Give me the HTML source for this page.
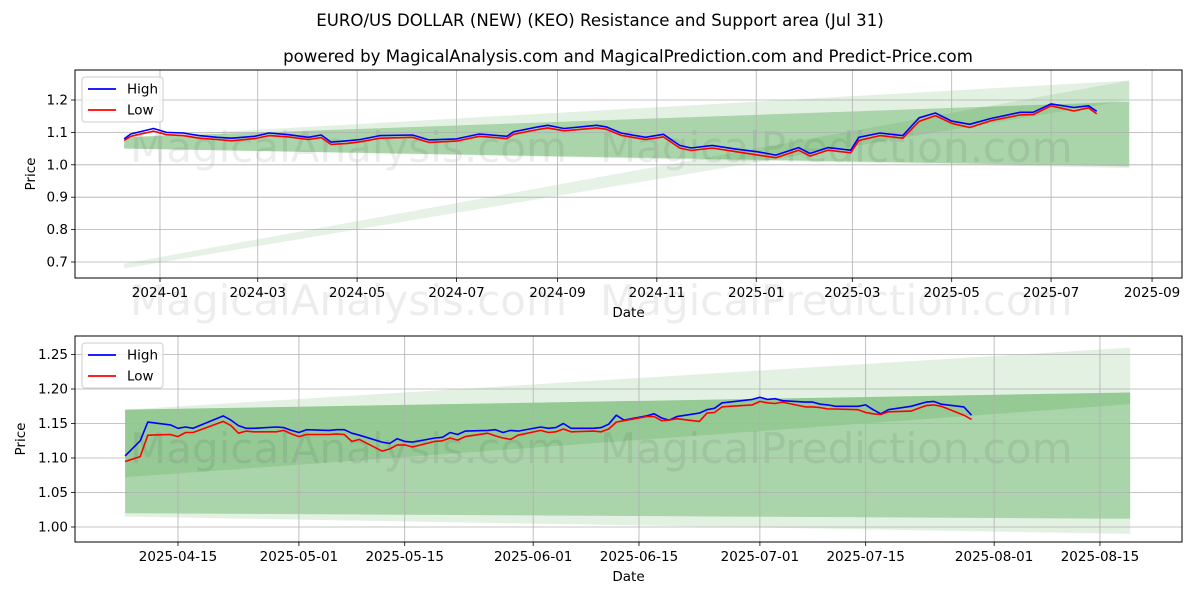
<!DOCTYPE html>
<html><head><meta charset="utf-8"><style>
body{margin:0;background:#fff;}
svg text{font-family:"DejaVu Sans","Liberation Sans",sans-serif;fill:#000;}
</style></head><body>
<svg id="c" width="1200" height="600" xmlns="http://www.w3.org/2000/svg">
<rect width="1200" height="600" fill="#fff"/>
<text x="600" y="26" font-size="16.6" text-anchor="middle">EURO/US DOLLAR (NEW) (KEO) Resistance and Support area (Jul 31)</text>
<text x="628" y="62" font-size="16.6" text-anchor="middle">powered by MagicalAnalysis.com and MagicalPrediction.com and Predict-Price.com</text>
<g id="top"></g>
<g id="bot"></g>
</svg>
<script>
// ---- top chart data ----
const topDates=["2023-12-10","2023-12-14","2023-12-28","2024-01-05","2024-01-15","2024-01-25","2024-02-05","2024-02-14","2024-02-28","2024-03-08","2024-03-20","2024-04-01","2024-04-09","2024-04-15","2024-04-25","2024-05-03","2024-05-15","2024-06-04","2024-06-14","2024-07-01","2024-07-15","2024-08-01","2024-08-05","2024-08-20","2024-08-26","2024-09-05","2024-09-25","2024-10-01","2024-10-10","2024-10-25","2024-11-05","2024-11-15","2024-11-22","2024-12-05","2024-12-20","2025-01-02","2025-01-13","2025-01-27","2025-02-03","2025-02-14","2025-02-28","2025-03-05","2025-03-18","2025-04-01","2025-04-11","2025-04-21","2025-05-01","2025-05-12","2025-05-25","2025-06-12","2025-06-20","2025-07-01","2025-07-15","2025-07-24","2025-07-29"];
const topHigh=[1.080,1.095,1.112,1.100,1.098,1.090,1.085,1.082,1.088,1.098,1.093,1.085,1.092,1.070,1.074,1.078,1.090,1.092,1.077,1.080,1.095,1.088,1.102,1.117,1.122,1.112,1.122,1.117,1.098,1.085,1.094,1.060,1.052,1.060,1.048,1.040,1.030,1.053,1.035,1.053,1.045,1.085,1.098,1.090,1.145,1.160,1.135,1.125,1.143,1.162,1.162,1.188,1.177,1.182,1.165];
const topLow=[1.075,1.088,1.104,1.093,1.090,1.082,1.078,1.074,1.081,1.090,1.086,1.078,1.084,1.063,1.066,1.071,1.082,1.085,1.069,1.073,1.088,1.081,1.094,1.109,1.114,1.105,1.114,1.110,1.091,1.078,1.086,1.052,1.044,1.052,1.040,1.030,1.022,1.045,1.027,1.045,1.037,1.075,1.090,1.082,1.134,1.152,1.128,1.115,1.136,1.154,1.155,1.182,1.166,1.176,1.157];
const topYTicks=[0.7,0.8,0.9,1.0,1.1,1.2];
const topXTicks=["2024-01","2024-03","2024-05","2024-07","2024-09","2024-11","2025-01","2025-03","2025-05","2025-07","2025-09"];
const topBandDates=["2023-12-10","2025-08-18"];
const topOuterTop=[1.085,1.26], topOuterBot=[1.05,0.99];
const topMainTop=[1.085,1.195], topMainBot=[1.05,0.995];
const topLineTop=[0.695,1.26], topLineBot=[0.68,1.20];
// ---- bottom chart data ----
const botDates=["2025-04-08","2025-04-10","2025-04-11","2025-04-14","2025-04-15","2025-04-16","2025-04-17","2025-04-21","2025-04-22","2025-04-23","2025-04-24","2025-04-25","2025-04-28","2025-04-29","2025-04-30","2025-05-01","2025-05-02","2025-05-05","2025-05-06","2025-05-07","2025-05-08","2025-05-09","2025-05-12","2025-05-13","2025-05-14","2025-05-15","2025-05-16","2025-05-19","2025-05-20","2025-05-21","2025-05-22","2025-05-23","2025-05-26","2025-05-27","2025-05-28","2025-05-29","2025-05-30","2025-06-02","2025-06-03","2025-06-04","2025-06-05","2025-06-06","2025-06-09","2025-06-10","2025-06-11","2025-06-12","2025-06-13","2025-06-16","2025-06-17","2025-06-18","2025-06-19","2025-06-20","2025-06-23","2025-06-24","2025-06-25","2025-06-26","2025-06-27","2025-06-30","2025-07-01","2025-07-02","2025-07-03","2025-07-04","2025-07-07","2025-07-08","2025-07-09","2025-07-10","2025-07-11","2025-07-14","2025-07-15","2025-07-16","2025-07-17","2025-07-18","2025-07-21","2025-07-22","2025-07-23","2025-07-24","2025-07-25","2025-07-28","2025-07-29"];
const botHigh=[1.103,1.125,1.152,1.148,1.143,1.145,1.143,1.161,1.155,1.147,1.143,1.143,1.145,1.144,1.140,1.137,1.141,1.140,1.141,1.141,1.136,1.133,1.123,1.121,1.128,1.124,1.123,1.129,1.130,1.137,1.134,1.139,1.140,1.141,1.137,1.140,1.139,1.145,1.143,1.144,1.150,1.143,1.143,1.144,1.149,1.162,1.155,1.161,1.164,1.158,1.155,1.160,1.165,1.170,1.172,1.180,1.181,1.185,1.188,1.185,1.186,1.183,1.181,1.181,1.178,1.177,1.175,1.175,1.177,1.170,1.164,1.170,1.175,1.178,1.181,1.182,1.178,1.174,1.162];
const botLow=[1.095,1.102,1.133,1.134,1.131,1.137,1.137,1.153,1.147,1.136,1.139,1.138,1.138,1.140,1.135,1.131,1.134,1.134,1.135,1.134,1.124,1.127,1.110,1.113,1.119,1.119,1.116,1.124,1.125,1.129,1.126,1.131,1.136,1.132,1.129,1.127,1.133,1.140,1.137,1.138,1.142,1.138,1.139,1.138,1.142,1.152,1.154,1.160,1.160,1.154,1.155,1.157,1.153,1.165,1.166,1.174,1.175,1.177,1.182,1.180,1.179,1.181,1.174,1.174,1.173,1.171,1.171,1.170,1.166,1.164,1.163,1.167,1.168,1.172,1.176,1.177,1.175,1.162,1.156];
const botYTicks=[1.00,1.05,1.10,1.15,1.20,1.25];
const botXTicks=["2025-04-15","2025-05-01","2025-05-15","2025-06-01","2025-06-15","2025-07-01","2025-07-15","2025-08-01","2025-08-15"];
const botBandDates=["2025-04-08","2025-08-19"];
const botOuterTop=[1.17,1.26], botOuterBot=[1.015,0.99];
const botMainTop=[1.17,1.195], botMainBot=[1.02,1.012];
const botInnerTop=[1.17,1.195], botInnerBot=[1.072,1.178];

const NS="http://www.w3.org/2000/svg";
function day(s){const p=s.split("-").map(Number);return Date.UTC(p[0],p[1]-1,p[2]||1)/864e5;}
function mk(tag,at,parent){const e=document.createElementNS(NS,tag);for(const k in at)e.setAttribute(k,at[k]);parent.appendChild(e);return e;}

function panel(g,cfg){
  const {L,R,T,B,d0,d1,v0,v1}=cfg;
  const X=d=>L+(day(d)-d0)/(d1-d0)*(R-L);
  const Y=v=>B-(v-v0)/(v1-v0)*(B-T);
  function band(dates,top,bot,alpha,name){
    const pts=[[X(dates[0]),Y(top[0])],[X(dates[1]),Y(top[1])],[X(dates[1]),Y(bot[1])],[X(dates[0]),Y(bot[0])]];
    const p=mk("polygon",{points:pts.map(q=>q.join(",")).join(" "),fill:"rgb(0,128,0)","fill-opacity":alpha},g);
    
    
  }
  cfg.bands.forEach(b=>band(cfg.bandDates,b[0],b[1],b[2],b[3]));
  cfg.marks.forEach(m=>{const t=mk("text",{x:m[0],y:m[1],"font-size":42},g);t.style.fillOpacity="0.07";t.textContent=m[2];
    
    });
  cfg.yTicks.forEach(v=>{const y=Y(v);
    const l=mk("line",{x1:L,x2:R,y1:y,y2:y,stroke:"#b0b0b0","stroke-width":0.8},g);
    
    
    mk("line",{x1:L-4,x2:L,y1:y,y2:y,stroke:"#000","stroke-width":0.8},g);
    const t=mk("text",{x:L-7,y:y+4.5,"font-size":13.5,"text-anchor":"end"},g);t.textContent=v.toFixed(cfg.yDec);
    
    });
  cfg.xTicks.forEach(d=>{const x=X(d);
    const l=mk("line",{x1:x,x2:x,y1:T,y2:B,stroke:"#b0b0b0","stroke-width":0.8},g);
    
    
    mk("line",{x1:x,x2:x,y1:B,y2:B+4,stroke:"#000","stroke-width":0.8},g);
    const t=mk("text",{x:x,y:B+19,"font-size":13.5,"text-anchor":"middle"},g);t.textContent=d;
    
    });
  function line(vals,color,name){
    const p=mk("polyline",{points:cfg.dates.map((d,i)=>X(d).toFixed(1)+","+Y(vals[i]).toFixed(1)).join(" "),fill:"none",stroke:color,"stroke-width":1.6,"stroke-linejoin":"round"},g);
    
    
  }
  line(cfg.high,"#0000ff","high-line");
  line(cfg.low,"#ff0000","low-line");
  const fr=mk("rect",{x:L,y:T,width:R-L,height:B-T,fill:"none",stroke:"#000","stroke-width":1},g);
  
  
  const xl=mk("text",{x:(L+R)/2,y:B+39,"font-size":13.5,"text-anchor":"middle"},g);xl.textContent="Date";
  
  
  const cy=(T+B)/2;
  const yl=mk("text",{x:cfg.yLabX,y:cy,"font-size":13.5,"text-anchor":"middle",transform:`rotate(-90 ${cfg.yLabX} ${cy})`},g);yl.textContent="Price";
  
  
  const lg=mk("g",{},g);
  
  
  mk("rect",{x:L+7,y:T+7,width:81,height:45,rx:3,fill:"#fff","fill-opacity":0.8,stroke:"#ccc"},lg);
  [["High","#0000ff"],["Low","#ff0000"]].forEach((e,i)=>{const y=T+19+i*21;
    const le=mk("g",{},lg);
    
    
    mk("line",{x1:L+13,x2:L+41,y1:y,y2:y,stroke:e[1],"stroke-width":1.8},le);
    const t=mk("text",{x:L+52,y:y+4.5,"font-size":13.5},le);t.textContent=e[0];});
}

panel(document.getElementById("top"),{L:75,R:1182,T:70,B:278,d0:day("2024-01-01")-(160-75)/1.629,d1:day("2024-01-01")+(1182-160)/1.629,
  v0:1.2-(278-100)/324,v1:1.2+(100-70)/324,yDec:1,yLabX:35,
  dates:topDates,high:topHigh,low:topLow,yTicks:topYTicks,xTicks:topXTicks,bandDates:topBandDates,
  bands:[[topOuterTop,topOuterBot,0.11,"outer-band"],[topMainTop,topMainBot,0.25,"main-band"],[topLineTop,topLineBot,0.1,"trend-band"]],
  marks:[[130,162,"MagicalAnalysis.com"],[600,162,"MagicalPrediction.com"],[130,315,"MagicalAnalysis.com"],[600,315,"MagicalPrediction.com"]]});
panel(document.getElementById("bot"),{L:75,R:1182,T:336,B:542,d0:day("2025-04-15")-(178-75)/7.557,d1:day("2025-04-15")+(1182-178)/7.557,
  v0:1.10-(542-458)/690,v1:1.10+(458-336)/690,yDec:2,yLabX:25,
  dates:botDates,high:botHigh,low:botLow,yTicks:botYTicks,xTicks:botXTicks,bandDates:botBandDates,
  bands:[[botOuterTop,botOuterBot,0.11,"outer-band"],[botMainTop,botMainBot,0.25,"main-band"],[botInnerTop,botInnerBot,0.12,"inner-band"]],
  marks:[[130,463,"MagicalAnalysis.com"],[600,463,"MagicalPrediction.com"]]});
</script>
</body></html>
